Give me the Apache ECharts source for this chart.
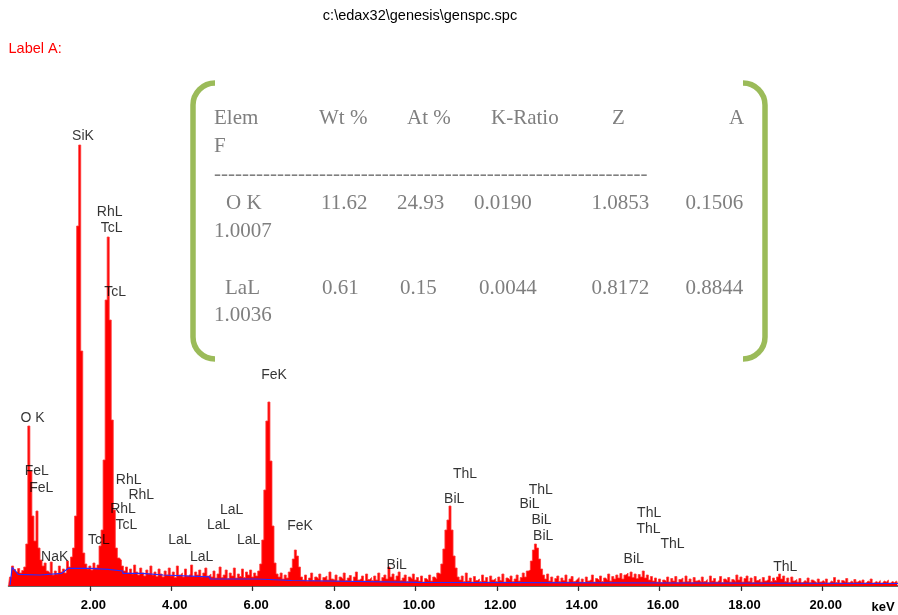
<!DOCTYPE html>
<html><head><meta charset="utf-8">
<script src="https://cdn.jsdelivr.net/npm/echarts@6/dist/echarts.min.js"></script>
<style>html,body{margin:0;padding:0;background:#fff}#c{width:898px;height:615px}</style>
</head><body><div id="c"></div>
<script>
// ---------------- DATA ----------------
const chartTitle = 'c:\\edax32\\genesis\\genspc.spc';
const panelLabel = 'Label A:';
const axisUnit = 'keV';
const channelStart = 0;      // keV
const channelWidth = 0.05;   // keV per channel
// counts per channel (0.00 .. 21.85 keV)
const spectrumCounts = [
  0, 90, 200, 165, 140, 175, 130, 155, 190, 420, 1600, 1150, 700, 450, 750, 380, 260, 200, 230, 150,
  130, 240, 110, 150, 120, 200, 140, 170, 130, 250, 190, 290, 380, 700, 3600, 4410, 2350, 330, 220, 170,
  200, 160, 230, 180, 210, 400, 560, 1260, 2860, 3490, 2660, 1660, 760, 380, 280, 260, 200, 150, 190, 130,
  170, 120, 210, 140, 110, 180, 130, 100, 160, 120, 200, 110, 140, 95, 170, 120, 90, 150, 110, 180,
  100, 140, 85, 200, 110, 130, 90, 170, 100, 120, 210, 95, 140, 110, 160, 90, 130, 180, 100, 120,
  90, 150, 80, 120, 190, 85, 110, 160, 75, 130, 100, 180, 80, 120, 95, 170, 85, 140, 110, 160,
  90, 130, 100, 150, 220, 460, 960, 1650, 1840, 1250, 600, 230, 120, 90, 130, 70, 110, 80, 140, 180,
  270, 360, 300, 190, 90, 60, 110, 50, 80, 130, 55, 90, 70, 120, 50, 85, 100, 60, 140, 70,
  60, 110, 50, 90, 70, 130, 55, 80, 105, 45, 90, 140, 60, 75, 100, 50, 120, 65, 85, 55,
  100, 60, 130, 50, 85, 110, 70, 190, 90, 120, 60, 100, 140, 55, 80, 110, 45, 90, 70, 120,
  60, 85, 50, 100, 40, 75, 55, 110, 50, 90, 70, 130, 120, 220, 370, 560, 660, 800, 560, 300,
  180, 90, 60, 100, 45, 130, 50, 80, 40, 95, 55, 70, 45, 110, 50, 85, 40, 100, 60, 75,
  45, 90, 55, 120, 40, 80, 60, 100, 45, 70, 110, 50, 85, 130, 90, 150, 160, 250, 360, 420,
  380, 270, 170, 110, 70, 120, 50, 90, 40, 75, 100, 45, 80, 55, 110, 40, 70, 95, 45, 65,
  85, 40, 70, 35, 90, 50, 65, 110, 40, 75, 55, 100, 45, 80, 60, 120, 50, 95, 70, 110,
  80, 125, 70, 110, 130, 95, 140, 85, 120, 75, 115, 90, 150, 80, 110, 60, 95, 50, 80, 40,
  70, 35, 60, 45, 90, 40, 75, 50, 95, 35, 65, 80, 40, 100, 45, 70, 35, 85, 50, 60,
  40, 90, 45, 65, 35, 100, 50, 75, 40, 60, 95, 35, 70, 50, 85, 40, 65, 45, 110, 60,
  90, 40, 75, 100, 45, 80, 35, 95, 55, 70, 40, 85, 50, 65, 100, 45, 80, 55, 90, 120,
  70, 100, 45, 80, 35, 90, 50, 65, 40, 75, 35, 55, 40, 80, 35, 60, 45, 30, 70, 40,
  55, 35, 70, 30, 50, 40, 85, 35, 60, 30, 55, 40, 75, 35, 50, 30, 65, 40, 55, 35,
  60, 30, 50, 40, 70, 30, 45, 35, 55, 30, 50, 40, 60, 30, 45, 35, 50, 30
];
// fitted background (blue)
const bgEnergy = [0.04, 0.09, 0.24, 0.77, 0.77, 1.31, 1.47, 2.00, 2.00, 2.45, 2.45, 2.81, 2.81, 3.30, 3.30, 3.80, 3.80, 4.95, 4.95, 6.10, 6.10, 6.96, 6.96, 10.06, 10.06, 21.86];
const bgCounts = [10, 187, 117, 110, 127, 127, 177, 177, 167, 167, 150, 150, 127, 127, 110, 110, 92, 92, 70, 70, 55, 55, 37, 37, 25, 25];
// element markers
const peakNames  = ['SiK','RhL','TcL','TcL','O K','FeL','FeL','NaK','TcL','RhL','RhL','RhL','TcL','LaL','LaL','LaL','LaL','LaL','FeK','FeK','BiL','ThL','BiL','ThL','BiL','BiL','BiL','ThL','ThL','ThL','BiL','ThL'];
const peakEnergy = [1.831, 2.487, 2.536, 2.622, 0.590, 0.695, 0.804, 1.135, 2.219, 2.954, 3.264, 2.814, 2.895, 4.210, 4.748, 5.166, 5.485, 5.903, 6.525, 7.164, 9.540, 11.219, 10.953, 13.082, 12.804, 13.099, 13.141, 15.745, 15.728, 16.318, 15.365, 19.088];
const peakCounts = [4500, 3735, 3580, 2935, 1682, 1152, 980, 290, 457, 1063, 913, 765, 607, 457, 290, 607, 757, 457, 2110, 603, 207, 1122, 873, 963, 815, 657, 497, 732, 573, 423, 268, 185];
const tickValues = [2, 4, 6, 8, 10, 12, 14, 16, 18, 20];
const xMin = 0, xMax = 21.86, yMax = 4600;
// quantification table
const tableHeader = ['Elem', 'Wt %', 'At %', 'K-Ratio', 'Z', 'A'];
const tableHeaderWrap = 'F';
const tableRule = '--------------------------------------------------------------';
const rowElem = ['O K', 'LaL'];
const rowWt = ['11.62', '0.61'];
const rowAt = ['24.93', '0.15'];
const rowK = ['0.0190', '0.0044'];
const rowZ = ['1.0853', '0.8172'];
const rowA = ['0.1506', '0.8844'];
const rowF = ['1.0007', '1.0036'];

// ---------------- LAYOUT ----------------
const chart = echarts.init(document.getElementById('c'), null, {renderer: 'canvas'});
const serif = '21px "Liberation Serif", "Times New Roman", serif';
const gray = '#7f7f7f';
const green = '#9bbb59';
function tx(text, x, y, font, fill, align) {
  return {type: 'text', x: x, y: y, silent: true,
    style: {text: text, font: font, fill: fill, align: align || 'left', verticalAlign: 'middle'}};
}
const g = [];
g.push(tx(chartTitle, 420, 16, '14.5px "Liberation Sans", Arial, sans-serif', '#000', 'center'));
g.push(tx(panelLabel, 8.5, 49, '14.5px "Liberation Sans", Arial, sans-serif', '#ff0000', 'left'));
g.push(tx(axisUnit, 883, 607, 'bold 13px "Liberation Sans", Arial, sans-serif', '#000', 'center'));
// brackets
const bs = {stroke: green, lineWidth: 5.5, fill: null};
g.push({type: 'arc', shape: {cx: 215, cy: 105, r: 22, startAngle: Math.PI, endAngle: Math.PI * 1.5, clockwise: true}, style: bs});
g.push({type: 'line', shape: {x1: 193, y1: 105, x2: 193, y2: 337}, style: bs});
g.push({type: 'arc', shape: {cx: 215, cy: 337, r: 22, startAngle: Math.PI * 0.5, endAngle: Math.PI, clockwise: true}, style: bs});
g.push({type: 'arc', shape: {cx: 743, cy: 105, r: 22, startAngle: Math.PI * 1.5, endAngle: Math.PI * 2, clockwise: true}, style: bs});
g.push({type: 'line', shape: {x1: 765, y1: 105, x2: 765, y2: 337}, style: bs});
g.push({type: 'arc', shape: {cx: 743, cy: 337, r: 22, startAngle: 0, endAngle: Math.PI * 0.5, clockwise: true}, style: bs});
// table
const headX = [214, 319, 407, 491, 612, 729];
tableHeader.forEach((t, i) => g.push(tx(t, headX[i], 118, serif, gray)));
g.push(tx(tableHeaderWrap, 214, 146, serif, gray));
g.push(tx(tableRule, 214, 174, serif, gray));
const rowY = [203, 288], rowY2 = [231, 315];
const colX = [[226, 321, 397, 474, 591.5, 685.5], [225, 322, 400, 479, 591.5, 685.5]];
for (let r = 0; r < rowElem.length; r++) {
  const cells = [rowElem[r], rowWt[r], rowAt[r], rowK[r], rowZ[r], rowA[r]];
  cells.forEach((t, i) => g.push(tx(t, colX[r][i], rowY[r], serif, gray)));
  g.push(tx(rowF[r], 214, rowY2[r], serif, gray));
}

const option = {
  backgroundColor: '#fff',
  animation: false,
  grid: {left: 8.5, right: 0, top: 126, bottom: 29},
  xAxis: [{
    type: 'value', min: xMin, max: xMax, offset: 5,
    splitLine: {show: false},
    axisLine: {show: true, lineStyle: {color: '#333', width: 1.5}},
    axisTick: {show: true, length: 4, customValues: tickValues, lineStyle: {color: '#333', width: 1.2}},
    axisLabel: {show: true, customValues: tickValues, margin: 8, formatter: v => v.toFixed(2),
      fontSize: 13, fontWeight: 'bold', color: '#000', fontFamily: '"Liberation Sans", Arial, sans-serif', padding: [0, 0, 0, 7]}
  }, {
    type: 'value', min: xMin, max: xMax, offset: 5, position: 'bottom',
    splitLine: {show: false}, axisLine: {show: false}, axisLabel: {show: false},
    axisTick: {show: true, inside: true, length: 3, customValues: tickValues, lineStyle: {color: '#333', width: 1.2}}
  }],
  yAxis: {type: 'value', min: 0, max: yMax, show: false, splitLine: {show: false}},
  series: [{
    type: 'line', xAxisIndex: 0, step: 'middle', symbol: 'none', silent: true, z: 2,
    data: spectrumCounts.map((c, i) => [channelStart + i * channelWidth, c]),
    lineStyle: {color: '#ff3a3a', width: 0.8},
    areaStyle: {color: '#ff0000', opacity: 1}
  }, {
    type: 'line', xAxisIndex: 0, symbol: 'none', silent: true, z: 3,
    data: bgEnergy.map((e, i) => [e, bgCounts[i]]),
    lineStyle: {color: '#2a2aff', width: 1.2}
  }, {
    type: 'scatter', xAxisIndex: 0, symbolSize: 0, silent: true, z: 4,
    data: peakEnergy.map((e, i) => [e, peakCounts[i], peakNames[i]]),
    label: {show: true, position: 'inside', formatter: p => p.data[2], color: '#000',
      fontSize: 14, fontFamily: '"Liberation Sans", Arial, sans-serif'}
  }],
  graphic: g
};
chart.setOption(option);
</script></body></html>
